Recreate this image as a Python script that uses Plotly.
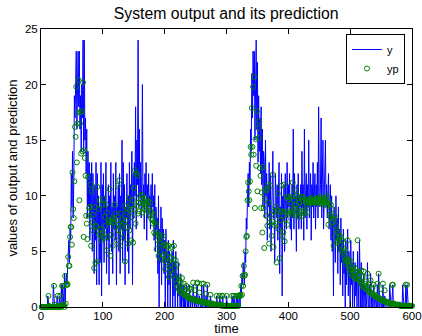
import plotly.graph_objects as go

time = list(range(1, 601))

y_vals = [
    0, 0, 0, 0, 0, 0, 0, 0, 0, 0, 1, 0, 0, 0, 0, 0, 0, 0, 0, 2,
    0, 0, 0, 0, 0, 1, 0, 0, 0, 1, 0, 0, 2, 0, 2, 0, 0, 3, 0, 2,
    3, 2, 4, 5, 6, 4, 7, 6, 12, 9, 14, 8, 11, 19, 17, 20, 23, 16, 21, 23,
    18, 23, 16, 19, 14, 20, 17, 24, 14, 24, 15, 17, 12, 16, 8, 14, 9, 13, 6, 12,
    8, 13, 5, 12, 9, 3, 11, 6, 13, 2, 12, 7, 10, 2, 9, 4, 13, 1, 11, 6,
    12, 4, 10, 7, 13, 3, 9, 6, 11, 2, 10, 8, 13, 5, 9, 3, 12, 7, 10, 6,
    13, 2, 9, 8, 11, 5, 12, 3, 10, 7, 15, 4, 13, 6, 11, 2, 9, 8, 12, 5,
    10, 3, 13, 7, 11, 9, 14, 2, 12, 8, 13, 10, 18, 7, 15, 11, 24, 9, 16, 10,
    13, 8, 12, 20, 9, 11, 7, 12, 10, 13, 6, 11, 8, 12, 9, 10, 7, 11, 8, 12,
    9, 10, 6, 11, 5, 9, 7, 8, 3, 10, 0, 7, 4, 9, 2, 8, 5, 7, 3, 6,
    0, 7, 4, 5, 0, 6, 2, 5, 0, 4, 3, 5, 0, 6, 1, 4, 0, 5, 2, 3,
    0, 4, 1, 2, 0, 3, 0, 2, 1, 0, 2, 0, 1, 0, 2, 0, 0, 1, 0, 2,
    0, 0, 1, 0, 0, 2, 0, 0, 1, 0, 0, 2, 2, 0, 0, 1, 0, 0, 0, 2,
    0, 0, 2, 0, 0, 0, 1, 0, 2, 0, 0, 0, 0, 1, 0, 0, 0, 0, 0, 0,
    0, 0, 0, 1, 0, 0, 0, 0, 1, 0, 0, 0, 1, 1, 0, 0, 0, 0, 0, 1,
    0, 0, 0, 0, 0, 0, 0, 0, 1, 0, 0, 1, 0, 0, 0, 1, 0, 1, 0, 1,
    1, 0, 2, 1, 3, 2, 4, 3, 2, 5, 4, 8, 7, 10, 12, 9, 13, 11, 16, 14,
    21, 17, 23, 19, 23, 15, 20, 24, 16, 22, 13, 19, 14, 17, 12, 18, 11, 16, 9, 14,
    13, 8, 15, 10, 12, 6, 11, 9, 13, 7, 12, 5, 10, 11, 14, 8, 9, 4, 12, 10,
    8, 11, 6, 10, 13, 3, 9, 7, 12, 1, 10, 8, 11, 5, 12, 9, 7, 13, 8, 11,
    9, 12, 7, 10, 6, 11, 8, 16, 7, 12, 9, 10, 5, 11, 8, 12, 7, 10, 9, 11,
    7, 14, 9, 11, 6, 16, 8, 10, 12, 7, 11, 9, 15, 8, 10, 12, 6, 11, 9, 13,
    8, 10, 12, 7, 11, 9, 13, 8, 18, 10, 9, 11, 17, 8, 12, 15, 7, 10, 11, 15,
    9, 11, 8, 10, 12, 7, 9, 11, 6, 10, 5, 8, 1, 9, 7, 4, 10, 6, 8, 3,
    9, 5, 7, 2, 8, 4, 6, 1, 7, 3, 5, 0, 6, 2, 4, 7, 1, 5, 3, 0,
    6, 2, 4, 0, 5, 3, 0, 4, 1, 3, 0, 5, 2, 0, 6, 1, 0, 4, 0, 2,
    0, 3, 1, 0, 2, 0, 1, 4, 0, 0, 2, 0, 3, 0, 0, 1, 0, 2, 0, 0,
    1, 0, 0, 2, 0, 3, 0, 0, 1, 0, 0, 0, 2, 0, 0, 1, 0, 0, 0, 0,
    0, 0, 0, 2, 0, 0, 0, 2, 2, 0, 0, 0, 0, 0, 0, 0, 0, 0, 0, 0,
    0, 0, 0, 0, 2, 0, 0, 0, 0, 2, 0, 2, 0, 0, 0, 0, 0, 0, 0, 0,
]

yp_vals = [
    0, 0, 0, 0, 0, 0, 0, 0, 0, 0, 0, 1.0, 0.1, 0, 0, 0, 0, 0, 0, 0,
    1.9, 0.2, 0, 0, 0, 0, 1.0, 0.1, 0, 0, 1.0, 0.1, 0, 1.9, 0.2, 1.9, 0.2, 0, 2.8, 0.3,
    2.0, 2.1, 2.0, 4.5, 3.7, 3.7, 6.3, 7.2, 7.2, 5.6, 12.1, 8.8, 8.0, 11.3, 16.2, 15.3, 19.8, 13.0, 16.5, 17.5,
    20.4, 9.6, 16.5, 17.5, 13.8, 17.6, 14.0, 20.2, 6.3, 14.1, 13.4, 11.8, 8.2, 7.5, 6.1, 11.7, 8.2, 8.9, 9.0, 11.0,
    5.5, 10.4, 6.9, 7.6, 8.3, 3.5, 9.0, 4.0, 7.3, 7.2, 10.8, 4.1, 8.8, 6.5, 9.6, 6.6, 7.0, 6.0, 9.2, 6.7,
    9.7, 6.2, 8.1, 7.3, 9.2, 5.1, 8.5, 6.3, 7.8, 7.6, 10.6, 4.6, 7.7, 6.5, 8.0, 5.5, 7.6, 7.9, 9.2, 7.2,
    8.4, 6.0, 7.8, 10.9, 6.9, 7.4, 11.4, 5.5, 8.4, 6.7, 7.3, 7.9, 6.2, 7.5, 9.1, 4.1, 7.8, 8.5, 7.2, 8.8,
    5.7, 9.8, 6.9, 8.7, 9.2, 6.0, 8.1, 9.6, 5.8, 10.7, 8.8, 12.3, 7.5, 12.0, 9.1, 11.8, 8.4, 9.4, 8.6, 10.0,
    9.7, 9.0, 10.1, 8.5, 9.3, 9.5, 8.8, 9.6, 9.1, 9.8, 9.3, 8.7, 9.5, 9.0, 8.3, 9.4, 8.6, 8.0, 8.5, 7.8,
    7.5, 8.3, 6.7, 7.6, 6.5, 7.4, 5.2, 6.7, 6.0, 4.6, 6.5, 5.8, 4.9, 6.2, 4.3, 5.5, 6.4, 4.7, 5.6, 4.2,
    3.4, 5.6, 4.5, 5.4, 4.0, 5.5, 2.7, 4.9, 3.8, 3.3, 4.4, 5.4, 3.0, 4.3, 5.5, 3.5, 2.5, 4.2, 2.1, 3.8,
    1.8, 2.7, 1.6, 2.4, 1.4, 2.2, 1.3, 2.6, 1.7, 1.2, 2.1, 1.1, 1.5, 1.0, 1.9, 1.0, 0.9, 1.4, 0.8, 1.7,
    0.8, 0.7, 1.6, 0.7, 0.7, 2.2, 0.7, 0.6, 1.5, 0.6, 0.6, 2.1, 2.2, 0.6, 0.5, 1.3, 0.5, 0.5, 0.5, 2.1,
    0.5, 0.4, 2.1, 0.4, 0.4, 0.4, 1.2, 0.4, 2.0, 0.4, 0.3, 0.3, 0.3, 1.1, 0.3, 0.3, 0.3, 0.3, 0.2, 0.2,
    0.2, 0.2, 0.2, 1.0, 0.2, 0.2, 0.2, 0.2, 1.0, 0.2, 0.2, 0.1, 1.0, 1.0, 0.1, 0.1, 0.1, 0.1, 0.1, 1.0,
    0.1, 0.1, 0.1, 0.1, 0.1, 0.1, 0.1, 0.1, 1.0, 0.1, 0.1, 1.0, 0.1, 0.1, 0.1, 1.0, 0.1, 1.0, 0.1, 1.0,
    1.0, 1.1, 1.0, 1.9, 1.1, 2.8, 1.9, 3.7, 2.8, 2.9, 5.0, 6.3, 6.4, 9.6, 11.2, 10.4, 9.6, 11.3, 14.4, 13.7,
    17.9, 14.4, 19.8, 13.7, 20.7, 8.9, 15.1, 12.7, 17.6, 10.4, 16.1, 15.2, 16.7, 12.5, 11.8, 8.9, 10.3, 6.7, 12.6, 8.9,
    5.3, 9.7, 10.6, 8.2, 10.5, 7.3, 11.0, 9.4, 5.7, 7.6, 10.9, 8.3, 6.4, 7.7, 11.9, 5.4, 8.6, 7.3, 9.0, 7.5,
    4.0, 8.7, 10.2, 7.0, 8.2, 4.4, 8.6, 7.8, 10.9, 6.4, 8.6, 6.7, 11.0, 5.9, 8.5, 7.9, 9.9, 7.4, 8.6, 9.9,
    8.4, 9.7, 9.3, 8.5, 9.9, 8.3, 11.2, 8.7, 9.6, 8.9, 10.5, 8.3, 9.2, 10.0, 8.5, 9.8, 8.1, 9.4, 9.0, 8.6,
    9.9, 8.2, 9.6, 9.9, 8.6, 8.4, 9.7, 9.4, 9.5, 9.1, 8.5, 9.6, 9.5, 9.3, 9.7, 9.4, 9.6, 9.8, 9.5, 9.6,
    9.4, 9.5, 9.7, 9.6, 9.3, 9.8, 9.5, 9.7, 9.4, 9.6, 9.9, 9.5, 9.3, 9.7, 9.6, 9.4, 9.8, 9.2, 9.5, 9.7,
    9.4, 10.0, 9.1, 9.6, 7.4, 9.3, 8.3, 8.1, 9.2, 7.6, 8.8, 8.0, 5.5, 7.9, 8.2, 6.3, 7.3, 6.9, 5.8, 6.7,
    5.9, 6.1, 6.4, 5.6, 6.3, 5.1, 6.0, 4.9, 5.3, 4.5, 4.2, 5.1, 3.9, 4.4, 4.1, 6.0, 3.7, 4.2, 3.4, 3.0,
    4.1, 3.3, 3.6, 2.8, 3.4, 3.1, 2.6, 3.5, 2.7, 3.1, 2.5, 6.0, 3.2, 2.5, 2.9, 2.4, 2.2, 3.3, 2.0, 2.7,
    1.8, 3.2, 2.1, 1.7, 2.3, 1.6, 1.9, 3.0, 1.5, 1.4, 2.1, 1.3, 2.4, 1.2, 1.2, 1.7, 1.1, 2.0, 1.0, 1.0,
    1.1, 0.9, 0.9, 2.1, 0.8, 3.0, 0.8, 0.7, 1.6, 0.7, 0.6, 0.6, 2.1, 0.6, 0.5, 1.5, 0.5, 0.5, 0.4, 0.4,
    0.4, 0.4, 0.4, 0.3, 0.3, 0.3, 0.3, 2.0, 2.0, 0.3, 0.3, 0.2, 0.2, 0.2, 0.2, 0.2, 0.2, 0.2, 0.2, 0.2,
    0.1, 0.1, 0.1, 0.1, 0.1, 0.1, 0.1, 0.1, 0.1, 2.0, 0.1, 2.0, 0.1, 0.1, 0.1, 0.1, 0.1, 0.1, 0.1, 0.1,
]

x_ticks = [0, 100, 200, 300, 400, 500, 600]
y_ticks = [0, 5, 10, 15, 20, 25]

FONT = "Liberation Sans, Arial, Helvetica, sans-serif"

fig = go.Figure()
fig.add_trace(go.Scatter(
    x=time, y=y_vals, mode="lines", name="y",
    line=dict(color="rgb(0,0,255)", width=1),
))
fig.add_trace(go.Scatter(
    x=time, y=yp_vals, mode="markers", name="yp",
    marker=dict(symbol="circle-open", size=5, color="rgb(0,128,0)",
                line=dict(width=1, color="rgb(0,128,0)")),
    cliponaxis=False,
))

axis_common = dict(
    showline=True, linecolor="black", linewidth=1, mirror="ticks",
    ticks="inside", ticklen=5, tickcolor="black", showgrid=False,
    zeroline=False, automargin=False,
    tickfont=dict(family=FONT, size=11.5, color="black"),
)

fig.update_layout(
    template="none",
    width=422, height=336,
    margin=dict(l=41, r=10, t=29, b=29, pad=0),
    paper_bgcolor="white", plot_bgcolor="white",
    font=dict(family=FONT, color="black"),
    title=dict(text="System output and its prediction", x=0.536, xanchor="center",
               xref="container", y=0.976, yref="container", yanchor="top",
               font=dict(family=FONT, size=15.8, color="black")),
    xaxis=dict(range=[0, 600], tickvals=x_ticks, ticklabelstandoff=-2,
               title=dict(text="time", font=dict(family=FONT, size=13, color="black"), standoff=9),
               **axis_common),
    yaxis=dict(range=[0, 25], tickvals=y_ticks,
               title=dict(text="values of output and prediction", font=dict(family=FONT, size=13, color="black"), standoff=4),
               **axis_common),
    legend=dict(x=0.981, y=0.982, xanchor="right", yanchor="top",
                bgcolor="white", bordercolor="black", borderwidth=1,
                font=dict(family=FONT, size=11, color="black"),
                tracegroupgap=0, itemwidth=30),
    showlegend=True,
)

# remove the default 8px page margin so the 422x336 figure fills the window exactly
fig.write_html(
    "out.html",
    config={"displayModeBar": False},
    post_script="document.body.style.margin='0';document.body.style.overflow='hidden';",
)
